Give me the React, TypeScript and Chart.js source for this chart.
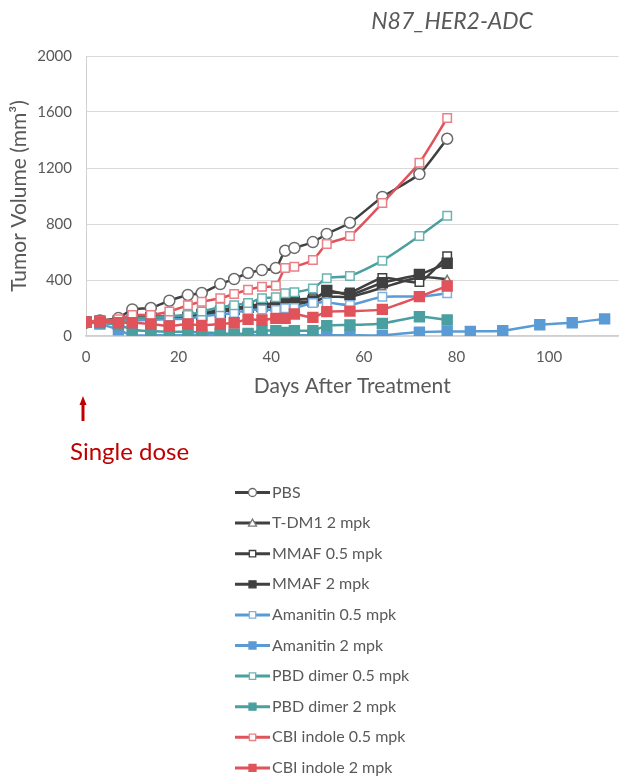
import React, { useEffect, useRef } from 'react';
import { Chart, registerables } from 'chart.js';

Chart.register(...registerables);

// ---------- data ----------
const days = [0, 3, 7, 10, 14, 18, 22, 25, 29, 32, 35, 38, 41, 43, 45, 49, 52, 57, 64, 72, 78];
const amanitinDays = [0, 3, 7, 10, 14, 18, 22, 25, 29, 32, 35, 38, 41, 43, 45, 49, 52, 57, 64, 72, 78, 83, 90, 98, 105, 112];

const pbs = [95, 110, 128, 190, 200, 252, 293, 307, 371, 407, 450, 471, 486, 609, 629, 671, 729, 809, 993, 1157, 1409];
const tdm1_2 = [100, 105, 110, 135, 130, 130, 140, 155, 175, 190, 200, 205, 210, 220, 230, 240, 280, 280, 345, 420, 405];
const mmaf_05 = [100, 110, 115, 145, 140, 140, 150, 165, 185, 200, 215, 225, 235, 250, 260, 270, 310, 310, 415, 385, 570];
const mmaf_2 = [100, 105, 110, 130, 130, 125, 135, 150, 170, 190, 205, 210, 215, 230, 245, 250, 325, 295, 380, 440, 520];
const amanitin_05 = [100, 90, 95, 110, 115, 120, 125, 140, 155, 165, 185, 190, 186, 198, 200, 235, 240, 222, 280, 282, 305];
const amanitin_2 = [100, 85, 45, 5, 5, 5, 5, 5, 5, 5, 5, 5, 5, 5, 5, 5, 5, 5, 5, 28, 32, 33, 38, 80, 95, 122];
const pbd_05 = [100, 105, 110, 130, 130, 140, 150, 175, 205, 220, 235, 269, 276, 305, 312, 340, 412, 429, 538, 714, 859];
const pbd_2 = [100, 95, 80, 45, 35, 30, 30, 25, 20, 15, 19, 38, 38, 26, 38, 38, 74, 79, 90, 138, 114];
const cbi_05 = [100, 110, 120, 150, 150, 175, 220, 245, 270, 300, 330, 352, 359, 486, 495, 543, 657, 714, 950, 1238, 1557];
const cbi_2 = [100, 100, 95, 95, 86, 71, 86, 76, 86, 95, 119, 114, 126, 126, 157, 133, 174, 178, 190, 281, 357];

const seriesNames = [
  'PBS',
  'T-DM1 2 mpk',
  'MMAF 0.5 mpk',
  'MMAF 2 mpk',
  'Amanitin 0.5 mpk',
  'Amanitin 2 mpk',
  'PBD dimer 0.5 mpk',
  'PBD dimer 2 mpk',
  'CBI indole 0.5 mpk',
  'CBI indole 2 mpk',
];

const xTicks = [0, 20, 40, 60, 80, 100];
const yTicks = [0, 400, 800, 1200, 1600, 2000];

const chartTitle = 'N87_HER2-ADC';
const xTitle = 'Days After Treatment';
const yTitle = 'Tumor Volume (mm³)';
const doseNote = 'Single dose';

// ---------- styles ----------
const FONT = 'Lato, "Open Sans", "DejaVu Sans", sans-serif';
const TEXT = '#595959';
const DARK = '#404040';
const BLUE = '#5B9BD5';
const TEAL = '#4A9FA0';
const RED = '#E0535A';
const DOSE_RED = '#C00000';

type Kind = 'circle' | 'triangle' | 'openRect' | 'rect';

const kinds: Kind[] = ['circle', 'triangle', 'openRect', 'rect', 'openRect', 'rect', 'openRect', 'rect', 'openRect', 'rect'];
const colors = [DARK, DARK, DARK, DARK, BLUE, BLUE, TEAL, TEAL, RED, RED];
const markerBorders = ['#6a6a6a', '#7a7a7a', DARK, DARK, '#7fb2e0', BLUE, '#6ab3b3', TEAL, '#ea7f85', RED];

function makeDataset(i: number, xs: number[], ys: number[]) {
  const kind = kinds[i];
  const filled = kind === 'rect';
  const radius = kind === 'circle' ? 5.5 : kind === 'triangle' ? 4 : kind === 'openRect' ? 6 : 7;
  return {
    label: seriesNames[i],
    data: xs.map((x, k) => ({ x, y: ys[k] })),
    borderColor: colors[i],
    backgroundColor: colors[i],
    borderWidth: 2.5,
    pointStyle: kind === 'circle' ? 'circle' : kind === 'triangle' ? 'triangle' : 'rect',
    pointRadius: radius,
    pointBorderColor: markerBorders[i],
    pointBackgroundColor: filled ? colors[i] : '#ffffff',
    pointBorderWidth: 1.5,
    tension: 0.2,
    fill: false,
    order: 20 - i,
  };
}

function drawMarker(ctx: CanvasRenderingContext2D, kind: Kind, x: number, y: number, color: string, border: string) {
  ctx.save();
  ctx.lineWidth = 1.3;
  ctx.strokeStyle = border;
  ctx.fillStyle = kind === 'rect' ? color : '#ffffff';
  ctx.beginPath();
  if (kind === 'circle') {
    ctx.arc(x, y, 4, 0, Math.PI * 2);
  } else if (kind === 'triangle') {
    ctx.moveTo(x, y - 4);
    ctx.lineTo(x + 4, y + 3);
    ctx.lineTo(x - 4, y + 3);
    ctx.closePath();
  } else {
    const s = kind === 'rect' ? 3.5 : 3.2;
    ctx.rect(x - s, y - s, 2 * s, 2 * s);
  }
  ctx.fill();
  ctx.stroke();
  ctx.restore();
}

const decorPlugin = {
  id: 'decor',
  afterDraw(chart: any) {
    const ctx: CanvasRenderingContext2D = chart.ctx;
    ctx.save();
    // title
    ctx.fillStyle = TEXT;
    ctx.font = `italic 23px ${FONT}`;
    ctx.textAlign = 'center';
    ctx.textBaseline = 'middle';
    ctx.fillText(chartTitle, 452, 22);

    // dose arrow
    const ax = chart.scales.x.getPixelForValue(0) - 3;
    ctx.strokeStyle = DOSE_RED;
    ctx.fillStyle = DOSE_RED;
    ctx.lineWidth = 3;
    ctx.beginPath();
    ctx.moveTo(ax, 421);
    ctx.lineTo(ax, 403);
    ctx.stroke();
    ctx.beginPath();
    ctx.moveTo(ax, 396);
    ctx.lineTo(ax + 3.5, 405);
    ctx.lineTo(ax - 3.5, 405);
    ctx.closePath();
    ctx.fill();

    ctx.font = `24px ${FONT}`;
    ctx.textAlign = 'left';
    ctx.fillText(doseNote, 70, 452);

    // legend
    const chartDatasets = chart.data.datasets;
    for (let i = 0; i < chartDatasets.length; i++) {
      const y = 492.5 + i * 30.6;
      ctx.strokeStyle = colors[i];
      ctx.lineWidth = 3;
      ctx.beginPath();
      ctx.moveTo(235, y);
      ctx.lineTo(270, y);
      ctx.stroke();
      drawMarker(ctx, kinds[i], 252.5, y, colors[i], markerBorders[i]);
      ctx.fillStyle = TEXT;
      ctx.font = `16px ${FONT}`;
      ctx.textAlign = 'left';
      ctx.textBaseline = 'middle';
      ctx.fillText(chartDatasets[i].label, 272, y);
    }
    ctx.restore();
  },
};

export default function App() {
  const ref = useRef<HTMLCanvasElement | null>(null);

  useEffect(() => {
    if (!ref.current) return;
    const seriesValues = [pbs, tdm1_2, mmaf_05, mmaf_2, amanitin_05, amanitin_2, pbd_05, pbd_2, cbi_05, cbi_2];
    const datasets = seriesValues.map((vals, i) => makeDataset(i, i === 5 ? amanitinDays : days, vals));

    const chart = new Chart(ref.current, {
      type: 'line',
      data: { datasets: datasets as any },
      options: {
        responsive: false,
        animation: false,
        events: [],
        layout: { padding: { left: 0, right: 0, top: 56, bottom: 778 - 336 - 63 } },
        plugins: {
          legend: { display: false },
          tooltip: { enabled: false },
          title: { display: false },
        },
        scales: {
          x: {
            type: 'linear',
            min: 0,
            max: 115,
            afterBuildTicks: (s: any) => {
              s.ticks = xTicks.map((v) => ({ value: v }));
            },
            afterFit: (s: any) => {
              s.height = 63;
            },
            grid: { display: false, drawTicks: false },
            border: { display: true, color: '#cfcfcf', width: 1.5 },
            ticks: {
              padding: 12,
              color: TEXT,
              font: { family: FONT, size: 15 },
              maxRotation: 0,
              autoSkip: false,
              callback: (v: any) => String(v),
            },
            title: {
              display: true,
              text: xTitle,
              color: TEXT,
              font: { family: FONT, size: 21 },
              padding: 0,
            },
          },
          y: {
            type: 'linear',
            min: 0,
            max: 2000,
            afterBuildTicks: (s: any) => {
              s.ticks = yTicks.map((v) => ({ value: v }));
            },
            afterFit: (s: any) => {
              s.width = 86;
            },
            grid: { color: '#d9d9d9', lineWidth: 1, drawTicks: false },
            border: { display: true, color: '#d0d0d0', width: 1 },
            ticks: {
              padding: 14,
              color: TEXT,
              font: { family: FONT, size: 15 },
              callback: (v: any) => String(v),
            },
            title: {
              display: true,
              text: yTitle,
              color: TEXT,
              font: { family: FONT, size: 21 },
              padding: { top: 7, bottom: 0 },
            },
          },
        },
      },
      plugins: [decorPlugin],
    });
    return () => chart.destroy();
  }, []);

  return (
    <div style={{ position: 'absolute', left: 0, top: 0, width: 627, height: 778, background: '#ffffff' }}>
      <canvas ref={ref} width={627} height={778} style={{ display: 'block', width: 627, height: 778 }} />
    </div>
  );
}
